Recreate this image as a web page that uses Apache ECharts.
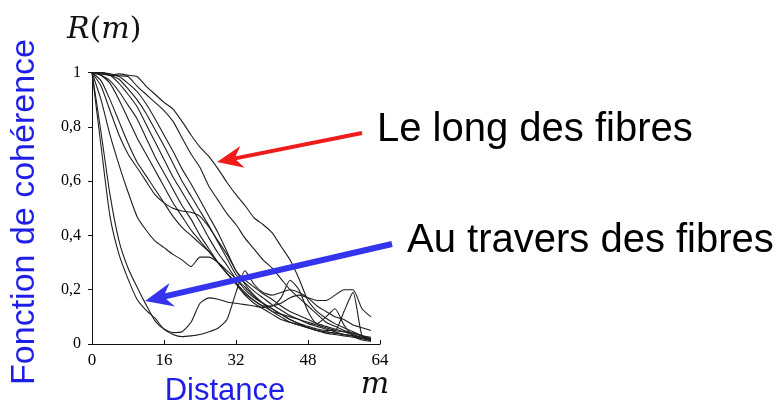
<!DOCTYPE html>
<html>
<head>
<meta charset="utf-8">
<script src="https://cdn.jsdelivr.net/npm/echarts@6/dist/echarts.min.js"></script>
<style>
html,body{margin:0;padding:0;background:#fff;}
#chart{width:782px;height:405px;}
</style>
</head>
<body>
<div id="chart"></div>
<script>
// distance m (shared sampling)
const distance = [0,2,4,6,8,10,12,14,16,18,20,22,24,26,28,30,32,34,36,38,40,42,44,46,48,50,52,54,56,58,60,62];
// x tick labels / y tick labels
const xTicks = [0,16,32,48,64];
const yTickLabels = ['0','0,2','0,4','0,6','0,8','1'];

// "Au travers des fibres" curves
const steepRise = [1,0.73,0.47,0.33,0.24,0.165,0.125,0.095,0.055,0.035,0.027,0.03,0.035,0.045,0.058,0.09,0.19,0.27,0.22,0.19,0.18,0.19,0.2,0.19,0.17,0.14,0.12,0.1,0.09,0.07,0.06,0.05];
const steepFlat = [1,0.78,0.55,0.38,0.28,0.21,0.145,0.085,0.055,0.042,0.045,0.08,0.15,0.17,0.165,0.155,0.15,0.145,0.14,0.135,0.14,0.15,0.17,0.18,0.17,0.16,0.16,0.18,0.2,0.2,0.13,0.1];
const bumpCurve = [1,0.9,0.77,0.66,0.56,0.47,0.42,0.38,0.355,0.33,0.31,0.285,0.32,0.32,0.3,0.27,0.24,0.2,0.17,0.15,0.13,0.11,0.09,0.075,0.06,0.05,0.045,0.04,0.035,0.03,0.025,0.02];
const plateauCurve = [1,0.95,0.86,0.77,0.7,0.65,0.6,0.55,0.52,0.5,0.49,0.485,0.47,0.43,0.38,0.33,0.27,0.22,0.18,0.15,0.12,0.1,0.08,0.07,0.06,0.05,0.045,0.04,0.035,0.03,0.02,0.015];
// intermediate curves
const midCurveD = [1,0.97,0.9,0.82,0.74,0.67,0.62,0.57,0.52,0.47,0.43,0.4,0.37,0.34,0.3,0.26,0.22,0.18,0.15,0.13,0.11,0.09,0.08,0.07,0.06,0.05,0.04,0.035,0.03,0.025,0.02,0.015];
const midCurveE = [1,0.99,0.96,0.9,0.83,0.76,0.7,0.64,0.58,0.52,0.47,0.42,0.38,0.34,0.3,0.26,0.225,0.19,0.16,0.14,0.12,0.11,0.1,0.09,0.08,0.07,0.06,0.05,0.045,0.04,0.03,0.02];
// "Le long des fibres" bundle
const bundle1 = [1,0.99,0.97,0.93,0.88,0.83,0.76,0.69,0.63,0.57,0.51,0.46,0.4,0.35,0.3,0.26,0.225,0.185,0.16,0.14,0.14,0.17,0.235,0.2,0.12,0.075,0.1,0.13,0.07,0.03,0.015,0.01];
const bundle2 = [1,0.995,0.99,0.96,0.92,0.875,0.81,0.745,0.68,0.615,0.56,0.505,0.45,0.39,0.335,0.29,0.24,0.21,0.175,0.15,0.13,0.11,0.09,0.075,0.065,0.055,0.05,0.05,0.12,0.19,0.03,0.01];
const bundle3 = [1,1,0.99,0.975,0.94,0.9,0.85,0.79,0.73,0.665,0.6,0.545,0.49,0.435,0.375,0.315,0.255,0.225,0.195,0.17,0.145,0.125,0.105,0.09,0.075,0.065,0.055,0.045,0.035,0.03,0.02,0.015];
const bundle4 = [1,1,0.995,0.985,0.96,0.93,0.885,0.83,0.77,0.71,0.645,0.59,0.53,0.47,0.41,0.34,0.27,0.235,0.21,0.185,0.165,0.14,0.12,0.105,0.09,0.075,0.065,0.055,0.045,0.035,0.025,0.02];
const secondCurve = [1,1,0.99,0.988,0.985,0.95,0.92,0.89,0.86,0.82,0.76,0.7,0.65,0.58,0.53,0.48,0.44,0.39,0.35,0.31,0.28,0.24,0.2,0.17,0.14,0.11,0.08,0.065,0.05,0.04,0.03,0.025];
const outerCurve = [1,0.995,0.99,0.995,0.99,0.985,0.95,0.92,0.89,0.865,0.82,0.77,0.725,0.69,0.645,0.595,0.55,0.51,0.465,0.44,0.41,0.36,0.31,0.24,0.16,0.12,0.095,0.075,0.06,0.045,0.03,0.015];

const curves = [steepRise, steepFlat, bumpCurve, plateauCurve, midCurveD, midCurveE, bundle1, bundle2, bundle3, bundle4, secondCurve, outerCurve];

const chart = echarts.init(document.getElementById('chart'), null, {renderer:'canvas'});

const serif = '"Liberation Serif", "DejaVu Serif", serif';
const sans = '"Liberation Sans", Arial, sans-serif';

function arrow(tail, tip, headLen, halfW, notch, width, color) {
  const dx = tip[0]-tail[0], dy = tip[1]-tail[1];
  const L = Math.sqrt(dx*dx+dy*dy);
  const ux = dx/L, uy = dy/L, px = -uy, py = ux;
  const base = [tip[0]-headLen*ux, tip[1]-headLen*uy];
  const back = [tip[0]-notch*ux, tip[1]-notch*uy];
  return [
    {type:'line', shape:{x1:tail[0], y1:tail[1], x2:back[0]+2*ux, y2:back[1]+2*uy}, style:{stroke:color, lineWidth:width}, z:10},
    {type:'polygon', shape:{points:[tip, [base[0]+halfW*px, base[1]+halfW*py], back, [base[0]-halfW*px, base[1]-halfW*py]]}, style:{fill:color}, z:10}
  ];
}

const series = curves.map(function(vals){
  return {
    type:'line',
    data: distance.map(function(m,i){ return [m, vals[i]]; }),
    showSymbol:false,
    smooth:0.2,
    lineStyle:{color:'#1e1e1e', width:1.1},
    silent:true
  };
});

chart.setOption({
  animation:false,
  grid:{left:92, right:402, top:72.5, bottom:61},
  xAxis:{
    type:'value', min:0, max:64, interval:16,
    axisLine:{lineStyle:{color:'#111', width:1}},
    axisTick:{inside:true, length:4, lineStyle:{color:'#111'}},
    axisLabel:{fontFamily:serif, fontSize:17, color:'#000', margin:8,
      formatter:function(v){ return xTicks.indexOf(v) >= 0 ? String(v) : ''; }},
    splitLine:{show:false}
  },
  yAxis:{
    type:'value', min:0, max:1, interval:0.2,
    axisLine:{show:true, lineStyle:{color:'#111', width:1}},
    axisTick:{show:true, inside:false, length:4, lineStyle:{color:'#111'}},
    axisLabel:{fontFamily:serif, fontSize:16, color:'#000', margin:11,
      formatter:function(v){ return yTickLabels[Math.round(v*5)]; }},
    splitLine:{show:false}
  },
  series: series,
  graphic: [
    {type:'text', x:67, y:30, style:{text:'{i|R}{n|(}{i|m}{n|)}', textVerticalAlign:'middle', textAlign:'left',
      rich:{i:{fontFamily:'"DejaVu Serif", serif', fontStyle:'italic', fontSize:30, fill:'#111'},
            n:{fontFamily:'"DejaVu Serif", serif', fontSize:30, fill:'#111'}}}},
    {type:'text', x:375, y:385, style:{text:'m', font:'italic 30px "DejaVu Serif", serif', fill:'#111', textAlign:'center', textVerticalAlign:'middle'}},
    {type:'text', x:225, y:391, style:{text:'Distance', font:'31px '+sans, fill:'#1e1ee6', textAlign:'center', textVerticalAlign:'middle'}},
    {type:'text', x:25, y:212, rotation:Math.PI/2, style:{text:'Fonction de cohérence', font:'34px '+sans, fill:'#1e1ee6', textAlign:'center', textVerticalAlign:'middle'}},
    {type:'text', x:377, y:129.5, style:{text:'Le long des fibres', font:'40px '+sans, fill:'#000', textAlign:'left', textVerticalAlign:'middle'}},
    {type:'text', x:407, y:241, style:{text:'Au travers des fibres', font:'40px '+sans, fill:'#000', textAlign:'left', textVerticalAlign:'middle'}}
  ].concat(arrow([362,133],[217,162],26,11,18,4,'#f01c1c'))
   .concat(arrow([392,244],[145,301],28,12,19,6,'#3434ee'))
});
</script>
</body>
</html>
